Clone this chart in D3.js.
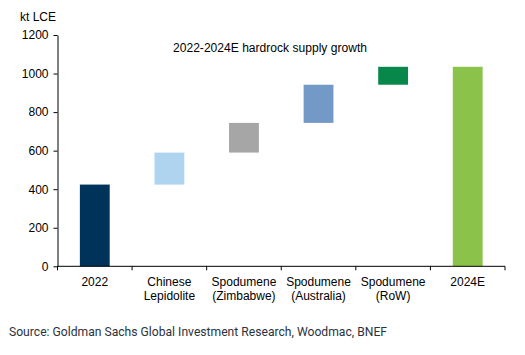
<!DOCTYPE html>
<html><head><meta charset="utf-8">
<script src="https://cdn.jsdelivr.net/npm/d3@7"></script>
<style>body{margin:0;background:#fff}svg{display:block}</style>
</head><body><svg id="c" width="525" height="355"></svg>
<script>
const categories = [["2022"],["Chinese","Lepidolite"],["Spodumene","(Zimbabwe)"],["Spodumene","(Australia)"],["Spodumene","(RoW)"],["2024E"]];
const barStart = [0, 424, 590, 744, 942, 0];
const barEnd   = [424, 590, 744, 942, 1035, 1035];
const barColors = ["#003359","#AED4F0","#A6A6A6","#7399C6","#07874A","#8BC34A"];
const yTicks = [0,200,400,600,800,1000,1200];
const title = "2022-2024E hardrock supply growth";
const yUnit = "kt LCE";
const source = "Source: Goldman Sachs Global Investment Research, Woodmac, BNEF";

const svg = d3.select("#c");
const L = 57.5, R = 505, T = 35, B = 266.3;
const x = d3.scaleBand().domain(d3.range(categories.length)).range([L,R]).paddingInner(0.6).paddingOuter(0.3);
const xb = d3.scaleBand().domain(d3.range(categories.length)).range([L,R]);
const y = d3.scaleLinear().domain([0,1200]).range([B,T]);
const font = "Liberation Sans, Arial, sans-serif";

svg.selectAll("rect.bar").data(categories).join("rect").attr("class","bar")
  .attr("x",(d,i)=>x(i)).attr("width",x.bandwidth())
  .attr("y",(d,i)=>y(barEnd[i])).attr("height",(d,i)=>y(barStart[i])-y(barEnd[i]))
  .attr("fill",(d,i)=>barColors[i]);

// y axis
const ya = svg.append("g").attr("transform",`translate(${L},0)`)
  .call(d3.axisLeft(y).tickValues(yTicks).tickFormat(d3.format("d")).tickSize(4).tickSizeOuter(0).tickPadding(5));
ya.select(".domain").attr("stroke","#000");
ya.selectAll("text").attr("font-family",font).attr("font-size",12).attr("fill","#000");

// x axis
const xa = svg.append("g").attr("transform",`translate(0,${B})`);
xa.append("line").attr("x1",L).attr("x2",R).attr("stroke","#000");
const edges = d3.range(categories.length).map(i=>xb(i)).concat([R]);
xa.selectAll("line.t").data(edges).join("line").attr("class","t")
  .attr("x1",d=>d).attr("x2",d=>d).attr("y1",0).attr("y2",4).attr("stroke","#000");
const lbl = xa.selectAll("text").data(categories).join("text")
  .attr("x",(d,i)=>xb(i)+xb.bandwidth()/2).attr("y",20)
  .attr("text-anchor","middle").attr("font-family",font).attr("font-size",12).attr("fill","#000");
lbl.selectAll("tspan").data(d=>d).join("tspan")
  .attr("x",function(){return this.parentNode.getAttribute("x");})
  .attr("dy",(d,j)=>j?13.5:0).text(d=>d);

svg.append("text").attr("x",20).attr("y",21).attr("font-family",font).attr("font-size",12).text(yUnit);
svg.append("text").attr("x",173).attr("y",52).attr("font-family",font).attr("font-size",12)
  .attr("textLength",194).attr("lengthAdjust","spacingAndGlyphs").text(title);
svg.append("text").attr("x",9).attr("y",336).attr("font-family","Roboto, sans-serif").attr("font-size",13)
  .attr("fill","#2b3340").attr("textLength",378).attr("lengthAdjust","spacingAndGlyphs").text(source);
</script></body></html>
